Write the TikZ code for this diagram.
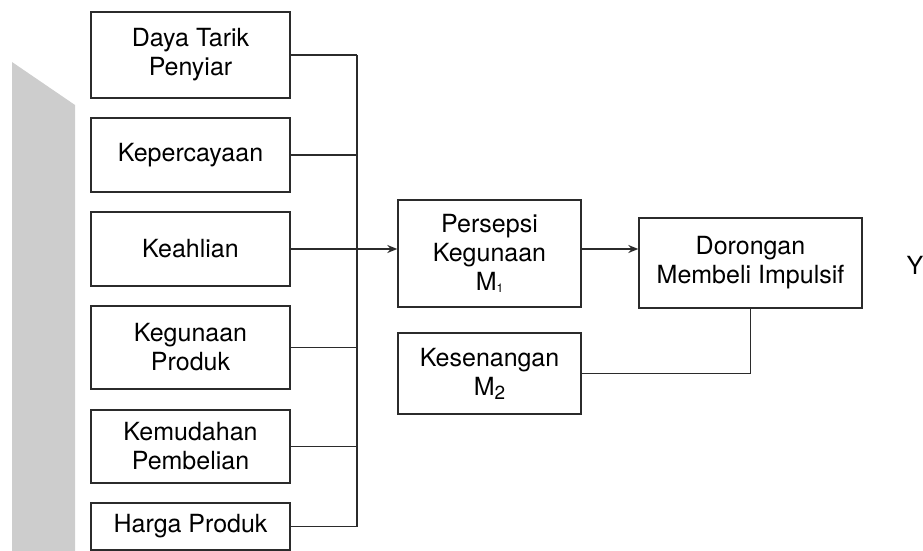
\documentclass[tikz,border=0pt]{standalone}
\usepackage{fontspec}
\setmainfont{TeX Gyre Heros}
\usetikzlibrary{arrows.meta}
\definecolor{boxline}{HTML}{2B2B2B}
\definecolor{bandgray}{HTML}{CDCDCD}
\begin{document}
\begin{tikzpicture}[x=1pt,y=-1pt,
  varbox/.style={draw=boxline,line width=1.4pt,fill=white,align=center,
    inner sep=0pt,font=\fontsize{25}{29}\selectfont},
  link/.style={draw=boxline,line width=1.4pt},
  arr/.style={link,-{Stealth[length=10pt,width=8pt]}}]
\useasboundingbox (0,0) rectangle (923,551);
% grey side band
\fill[bandgray] (12,62) -- (75,105) -- (75,551) -- (12,551) -- cycle;
% independent variables
\node[varbox,minimum width=199pt,minimum height=86pt] (b1) at (190.5,55) {Daya Tarik\\Penyiar};
\node[varbox,minimum width=199pt,minimum height=74pt] (b2) at (190.5,155) {Kepercayaan};
\node[varbox,minimum width=199pt,minimum height=74pt] (b3) at (190.5,249) {Keahlian};
\node[varbox,minimum width=199pt,minimum height=83pt] (b4) at (190.5,347.5) {Kegunaan\\Produk};
\node[varbox,minimum width=199pt,minimum height=73pt] (b5) at (190.5,446.5) {Kemudahan\\Pembelian};
\node[varbox,minimum width=199pt,minimum height=47pt] (b6) at (190.5,526.5) {Harga Produk};
% mediators and outcome
\node[varbox,minimum width=183pt,minimum height=107pt] (pk) at (489.5,253.5)
  {Persepsi\\Kegunaan\\M\raisebox{-2pt}{\fontsize{12}{12}\selectfont 1}};
\node[varbox,minimum width=183pt,minimum height=81pt] (kes) at (489.5,373.5)
  {Kesenangan\\M\raisebox{-4pt}{\fontsize{19}{19}\selectfont 2}};
\node[varbox,minimum width=223pt,minimum height=90pt] (dor) at (750.5,263)
  {Dorongan\\Membeli Impulsif};
\node[font=\fontsize{25}{29}\selectfont,inner sep=0pt] (y) at (915,265) {Y};
% collecting bus
\coordinate (busTop) at (357,55);
\coordinate (busBot) at (357,526.5);
\draw[link] (busTop) -- (busBot);
\foreach \b in {b1,b2,b4,b5,b6}
  \draw[link] (\b.east) -- (\b.east -| busTop);
\draw[arr] (b3.east) -- (b3.east -| pk.west);
\draw[arr] ([yshift=4.5pt]pk.east) -- ([yshift=4.5pt]pk.east -| dor.west);
\draw[link] (kes.east) -| (dor.south);
\end{tikzpicture}
\end{document}
